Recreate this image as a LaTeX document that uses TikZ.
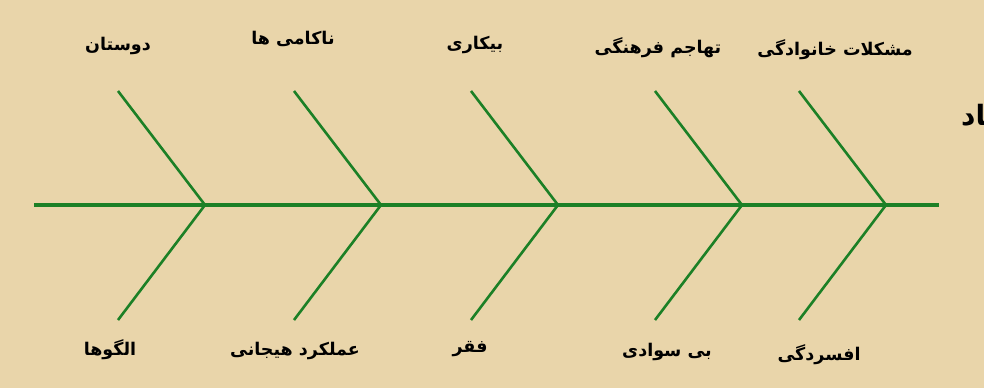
\documentclass[tikz,border=0pt]{standalone}
\usepackage{fontspec}
\newfontfamily\arabicfont[Script=Arabic]{DejaVu Sans}
\TeXXeTstate=1
\definecolor{paper}{RGB}{233,213,170}
\definecolor{bone}{RGB}{28,128,38}
\tikzset{
  spine/.style={draw=bone, line width=3.4pt},
  bonel/.style={draw=bone, line width=2.6pt},
  lab/.style={font=\arabicfont\bfseries\fontsize{17.5}{20}\selectfont, text=black, inner sep=0pt, anchor=center},
}
\begin{document}
\begin{tikzpicture}[x=1pt,y=-1pt]
\fill[paper] (0,0) rectangle (984,388);
\useasboundingbox (0,0) rectangle (984,388);
\begin{scope}
\clip (0,0) rectangle (984,388);
% spine ends
\coordinate (s0) at (34,205);
\coordinate (s1) at (939,205);
% vertices
\coordinate (v1) at (205,205);
\coordinate (v2) at (381,205);
\coordinate (v3) at (558,205);
\coordinate (v4) at (742,205);
\coordinate (v5) at (886,205);
% top ends
\coordinate (t1) at (118,91);
\coordinate (t2) at (294,91);
\coordinate (t3) at (471,91);
\coordinate (t4) at (655,91);
\coordinate (t5) at (799,91);
% bottom ends
\coordinate (b1) at (118,320);
\coordinate (b2) at (294,320);
\coordinate (b3) at (471,320);
\coordinate (b4) at (655,320);
\coordinate (b5) at (799,320);
\draw[spine] (s0) -- (s1);
\foreach \i in {1,...,5}{
  \draw[bonel] (t\i) -- (v\i) -- (b\i);
}
% top labels
\node[lab] (L1) at (118,46) {\beginR دوستان\endR};
\node[lab] (L2) at (293,39) {\beginR ناکامی ها\endR};
\node[lab] (L3) at (475,45) {\beginR بیکاری\endR};
\node[lab] (L4) at (658,48) {\beginR تهاجم فرهنگی\endR};
\node[lab] (L5) at (835,50) {\beginR مشکلات خانوادگی\endR};
% bottom labels
\node[lab] (M1) at (110,350) {\beginR الگوها\endR};
\node[lab] (M2) at (295,351) {\beginR عملکرد هیجانی\endR};
\node[lab] (M3) at (470,349) {\beginR فقر\endR};
\node[lab] (M4) at (667,352) {\beginR بی سوادی\endR};
\node[lab] (M5) at (819,355) {\beginR افسردگی\endR};
% head (cut off at the right edge, as in the reference)
\node[lab, font=\arabicfont\bfseries\fontsize{28}{32}\selectfont, anchor=west] (H) at (961,117) {\beginR اعتیاد\endR};
\end{scope}
\end{tikzpicture}
\end{document}
